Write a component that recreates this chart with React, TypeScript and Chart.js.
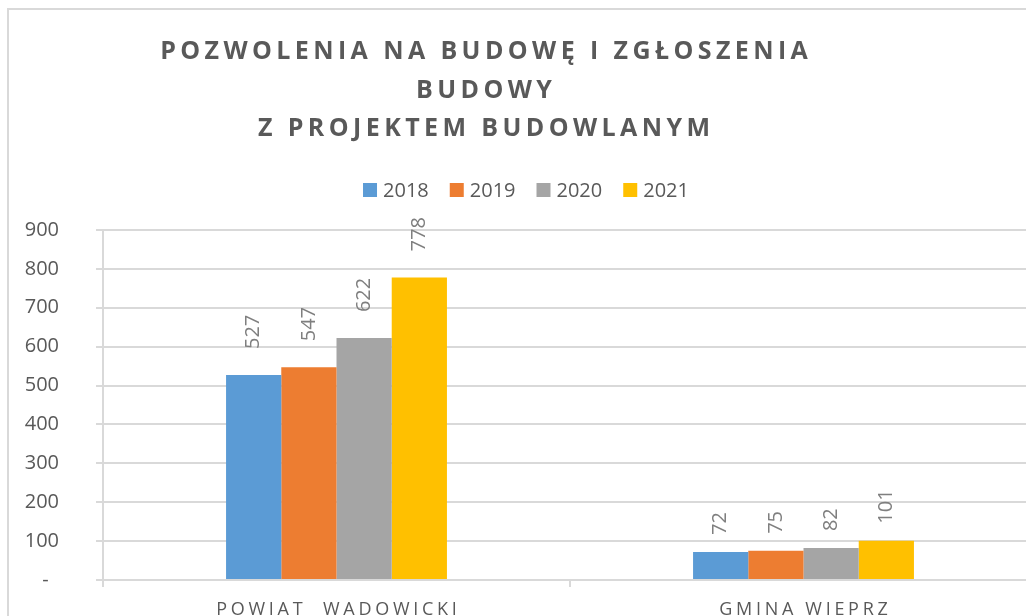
import React, { useEffect, useRef } from 'react';
import { Chart, registerables } from 'chart.js';

Chart.register(...registerables);

// ---- data ----
const categories = ['POWIAT  WADOWICKI', 'GMINA WIEPRZ'];
const seriesNames = ['2018', '2019', '2020', '2021'];
const values2018 = [527, 72];
const values2019 = [547, 75];
const values2020 = [622, 82];
const values2021 = [778, 101];
const titleLines = ['POZWOLENIA NA BUDOWĘ I ZGŁOSZENIA', 'BUDOWY', 'Z PROJEKTEM BUDOWLANYM'];
const yMin = 0;
const yMax = 900;
const yStep = 100;

// ---- styles ----
const seriesColors = ['#5B9BD5', '#ED7D31', '#A5A5A5', '#FFC000'];
const FONT = '"Open Sans", "Noto Sans", sans-serif';
const TEXT_DARK = '#595959';
const LABEL_GRAY = '#7F7F7F';
const GRID = '#D9D9D9';
const CANVAS_W = 1050;
const CANVAS_H = 640;

function drawSpaced(ctx: CanvasRenderingContext2D, text: string, cx: number, y: number, spacing: number) {
  (ctx as any).letterSpacing = '0px';
  const w0 = ctx.measureText(text).width;
  const n = Array.from(text).length;
  const total = w0 + spacing * (n - 1);
  (ctx as any).letterSpacing = spacing + 'px';
  ctx.textAlign = 'left';
  ctx.fillText(text, cx - total / 2, y);
  (ctx as any).letterSpacing = '0px';
}

const titlePlugin = {
  id: 'customTitle',
  afterDraw(chart: any) {
    const ctx: CanvasRenderingContext2D = chart.ctx;
    ctx.save();
    ctx.font = `bold 25px ${FONT}`;
    ctx.fillStyle = TEXT_DARK;
    ctx.textBaseline = 'alphabetic';
    const baselines = [49, 88, 126];
    titleLines.forEach((line, i) => drawSpaced(ctx, line, 475, baselines[i], 4.4));
    ctx.restore();
  },
};

const legendPlugin = {
  id: 'customLegend',
  afterDraw(chart: any) {
    const ctx: CanvasRenderingContext2D = chart.ctx;
    ctx.save();
    ctx.font = `20px ${FONT}`;
    const box = 14;
    const gapText = 6;
    const gapItem = 21;
    const widths = seriesNames.map((s) => box + gapText + ctx.measureText(s).width);
    const total = widths.reduce((a, b) => a + b, 0) + gapItem * (seriesNames.length - 1);
    let x = 517 - total / 2;
    const cy = 180;
    seriesNames.forEach((s, i) => {
      ctx.fillStyle = seriesColors[i];
      ctx.fillRect(x, cy - box / 2, box, box);
      ctx.fillStyle = TEXT_DARK;
      ctx.textAlign = 'left';
      ctx.textBaseline = 'middle';
      ctx.fillText(s, x + box + gapText, cy + 1);
      x += widths[i] + gapItem;
    });
    ctx.restore();
  },
};

const categoryLabelPlugin = {
  id: 'categoryLabels',
  afterDraw(chart: any) {
    const ctx: CanvasRenderingContext2D = chart.ctx;
    const xs = chart.scales.x;
    ctx.save();
    ctx.font = `18px ${FONT}`;
    ctx.fillStyle = TEXT_DARK;
    ctx.textBaseline = 'alphabetic';
    categories.forEach((c, i) => {
      drawSpaced(ctx, c, xs.getPixelForValue(i), xs.top + 35, 3.7);
    });
    ctx.restore();
  },
};

const labelGaps = [26, 17];

const dataLabelPlugin = {
  id: 'dataLabels',
  afterDatasetsDraw(chart: any) {
    const ctx: CanvasRenderingContext2D = chart.ctx;
    ctx.save();
    ctx.font = `20px ${FONT}`;
    ctx.fillStyle = LABEL_GRAY;
    chart.data.datasets.forEach((ds: any, di: number) => {
      const meta = chart.getDatasetMeta(di);
      meta.data.forEach((el: any, i: number) => {
        const v = ds.data[i];
        ctx.save();
        ctx.translate(el.x, el.y - labelGaps[i]);
        ctx.rotate(-Math.PI / 2);
        ctx.textAlign = 'left';
        ctx.textBaseline = 'middle';
        ctx.fillText(String(v), 0, 0);
        ctx.restore();
      });
    });
    ctx.restore();
  },
};

export default function App() {
  const ref = useRef<HTMLCanvasElement | null>(null);

  useEffect(() => {
    if (!ref.current) return;
    const seriesValues = [values2018, values2019, values2020, values2021];
    const chart = new Chart(ref.current, {
      type: 'bar',
      data: {
        labels: categories,
        datasets: seriesNames.map((name, i) => ({
          label: name,
          data: seriesValues[i],
          backgroundColor: seriesColors[i],
          borderWidth: 0,
          categoryPercentage: 0.473,
          barPercentage: 1,
        })),
      },
      options: {
        responsive: false,
        animation: false,
        devicePixelRatio: 1,
        layout: { padding: { top: 220, right: 22, bottom: 0, left: 0 } },
        plugins: {
          legend: { display: false },
          title: { display: false },
          tooltip: { enabled: false },
        },
        scales: {
          x: {
            ticks: { display: false },
            grid: {
              display: true,
              drawOnChartArea: false,
              drawTicks: true,
              tickLength: 7,
              color: GRID,
              lineWidth: 2,
              offset: true,
            },
            border: { display: true, color: GRID, width: 2 },
            afterFit: (s: any) => {
              s.height = 70;
            },
          },
          y: {
            min: yMin,
            max: yMax,
            ticks: {
              stepSize: yStep,
              color: TEXT_DARK,
              font: { family: FONT, size: 20 },
              padding: 37,
              callback: (v: any) => (Number(v) === 0 ? '-  ' : String(v)),
            },
            grid: { color: GRID, lineWidth: 2, tickLength: 7, drawTicks: true },
            border: { display: true, color: GRID, width: 2 },
            afterFit: (s: any) => {
              s.width = 94;
            },
          },
        },
      },
      plugins: [dataLabelPlugin, titlePlugin, legendPlugin, categoryLabelPlugin],
    });
    return () => chart.destroy();
  }, []);

  return (
    <div
      style={{
        position: 'fixed',
        left: 0,
        top: 0,
        width: 1026,
        height: 616,
        overflow: 'hidden',
        background: '#fff',
      }}
    >
      <div
        style={{
          position: 'absolute',
          left: 7,
          top: 8,
          width: CANVAS_W,
          height: CANVAS_H,
          border: `2px solid ${GRID}`,
          background: '#fff',
        }}
      >
        <canvas ref={ref} width={CANVAS_W} height={CANVAS_H} style={{ display: 'block' }} />
      </div>
    </div>
  );
}
